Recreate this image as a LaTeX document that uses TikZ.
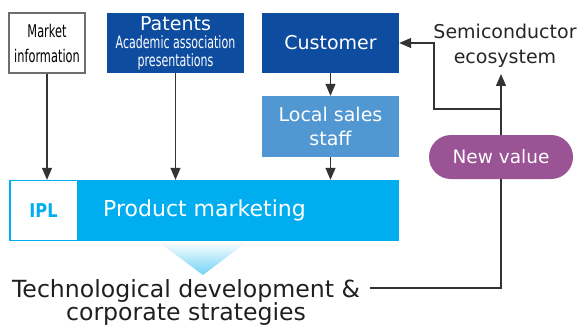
\documentclass[tikz,border=0pt]{standalone}
\usepackage{fontspec}
\setmainfont{DejaVu Sans}
\newfontfamily\condfont[FakeStretch=0.65]{DejaVu Sans}
\newfontfamily\iplfont[FakeStretch=0.85]{DejaVu Sans}
\usetikzlibrary{arrows.meta,calc}
\definecolor{dkblue}{HTML}{0D4C9F}
\definecolor{mdblue}{HTML}{5197D2}
\definecolor{cyanbar}{HTML}{00AEEF}
\definecolor{purp}{HTML}{9A5395}
\definecolor{linegray}{HTML}{333333}
\definecolor{boxgray}{HTML}{6E6E6E}
\pgfdeclarelayer{bg}
\pgfsetlayers{bg,main}
\tikzset{
  box/.style={rectangle, inner sep=0pt, align=center, text=white},
  arr/.style={draw=linegray, line width=1.2pt, -{Triangle[length=12pt,width=10pt]}},
  conn/.style={draw=linegray, line width=1.2pt},
}
\begin{document}
\begin{tikzpicture}[x=1pt,y=-1pt]
\useasboundingbox (0,0) rectangle (581,325);
% top row
\node[box, draw=boxgray, line width=1.2pt, fill=white, text=black, minimum width=76pt, minimum height=60pt,
      font=\condfont\fontsize{17.5}{25}\selectfont] (mkt) at (47,43) {Market\\information};
\node[box, fill=dkblue, minimum width=137pt, minimum height=60pt,
      font=\condfont\fontsize{17}{17.6}\selectfont] (pat) at (175.5,43)
      {{\rmfamily\fontsize{19}{17.6}\selectfont Patents}\\[0.8pt]Academic association\\presentations};
\node[box, fill=dkblue, minimum width=137pt, minimum height=60pt,
      font=\fontsize{19}{24}\selectfont] (cust) at (330.5,43) {Customer};
\node[box, fill=mdblue, minimum width=137pt, minimum height=61pt,
      font=\fontsize{19}{24}\selectfont] (loc) at (330.5,126.5) {Local sales\\staff};
% product marketing bar
\node[box, fill=cyanbar, minimum width=390pt, minimum height=61pt] (pm) at (204,210.5) {};
\node[box, draw=cyanbar, line width=1pt, fill=white, text=cyanbar, minimum width=67pt, minimum height=60pt,
      font=\iplfont\bfseries\fontsize{19}{24}\selectfont] (ipl) at (43.5,210.5) {IPL};
\node[box, anchor=west, font=\fontsize{22}{26}\selectfont] (pmtext) at (103,210.5) {Product marketing};
% triangle
\shade[top color=white, bottom color=cyanbar!55] (157,241) -- (248,241) -- (203,275) -- cycle;
% bottom text
\node[box, anchor=north, text=black!88, font=\fontsize{23.6}{23.5}\selectfont] (tech) at (186,279)
      {Technological development \&\\corporate strategies};
% right side
\node[box, text=black!85, inner xsep=0pt, inner ysep=6.5pt, font=\fontsize{19}{25}\selectfont] (semi) at (505,45.6)
      {Semiconductor\\ecosystem};
\node[box, fill=purp, rounded corners=22pt, minimum width=144pt, minimum height=44pt,
      font=\fontsize{18.5}{24}\selectfont] (nv) at (501,157) {New value};
% connectors
\coordinate (tj) at ([xshift=10pt, yshift=-9pt]tech.north east);
\coordinate (br) at (501,109);
\coordinate (bk) at (434,109);
\begin{pgfonlayer}{bg}
\draw[arr] (tj) -| (nv.center |- semi.south);
\draw[arr] (br) -- (bk) |- (cust.east);
\end{pgfonlayer}
\draw[arr] (mkt.south) -- (mkt.south |- pm.north);
\draw[arr] (pat.south) -- (pat.south |- pm.north);
\draw[arr] (cust.south) -- (loc.north);
\draw[arr] (loc.south) -- (loc.south |- pm.north);
\end{tikzpicture}
\end{document}
